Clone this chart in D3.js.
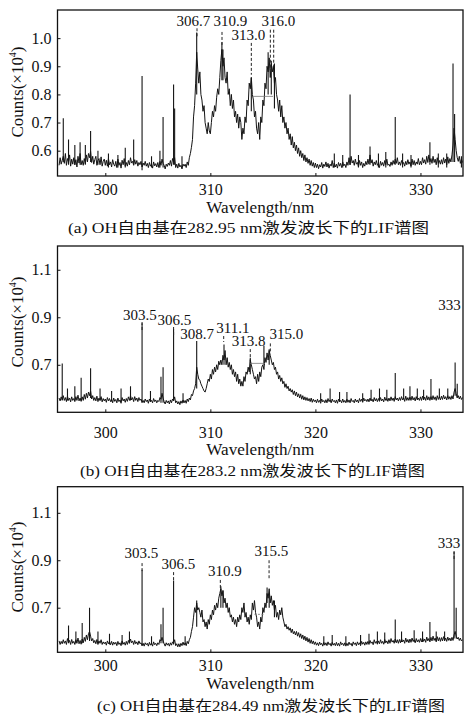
<!DOCTYPE html>
<html><head><meta charset="utf-8">
<script src="https://cdn.jsdelivr.net/npm/d3@7/dist/d3.min.js"></script>
<style>
body{margin:0;background:#fff;}
svg{display:block;}
text{font-family:"Liberation Serif","Times New Roman","Noto Sans CJK SC",serif;fill:#111;}
</style></head>
<body>
<script>
// ---------- DATA ----------
const WL_START = 295.6, WL_STEP = 0.1;   // sampling grid of the spectra (nm)
const xTicks = [300, 310, 320, 330];
const yTicksA = [0.6, 0.7, 0.8, 0.9, 1.0];
const yTicksB = [0.7, 0.9, 1.1];
const yTicksC = [0.7, 0.9, 1.1];
const captions = [
  "(a) OH自由基在282.95 nm激发波长下的LIF谱图",
  "(b) OH自由基在283.2 nm激发波长下的LIF谱图",
  "(c) OH自由基在284.49 nm激发波长下的LIF谱图"
];
const xTitle = "Wavelength/nm";

// spectrum (a), counts ×10^4 (one row per nm)
const specA = [
 .548,.575,.552,.566,
 .58,.555,.59,.548,.572,.56,.585,.545,.57,.552,
 .575,.55,.568,.542,.58,.556,.59,.55,.565,.548,
 .572,.553,.585,.56,.59,.575,.598,.558,.58,.552,
 .568,.58,.548,.565,.572,.55,.578,.545,.562,.57,
 .548,.566,.545,.572,.55,.56,.542,.568,.552,.545,
 .562,.54,.57,.548,.558,.538,.566,.55,.572,.545,
 .558,.545,.565,.55,.575,.556,.562,.548,.568,.552,
 .565,.545,.558,.55,.562,.542,.556,.548,.562,.545,
 .555,.54,.558,.545,.552,.538,.56,.546,.554,.542,
 .558,.54,.562,.548,.57,.555,.548,.535,.552,.544,
 .556,.548,.565,.545,.572,.56,.575,.54,.552,.538,
 .555,.542,.548,.535,.552,.545,.552,.54,.56,.548,
 .575,.59,.612,.64,.72,.76,.84,.95,.89,.84,
 .88,.80,.78,.74,.76,.70,.68,.66,.70,.67,
 .66,.70,.74,.72,.76,.74,.79,.82,.80,.86,
 .92,.96,.90,.93,.86,.84,.88,.80,.82,.76,
 .80,.75,.78,.72,.74,.70,.73,.68,.72,.70,
 .64,.68,.66,.72,.70,.78,.76,.84,.82,.86,
 .80,.78,.72,.74,.68,.66,.70,.64,.72,.70,
 .78,.76,.84,.82,.90,.88,.93,.86,.91,.88,
 .90,.84,.86,.80,.78,.74,.78,.72,.76,.70,
 .72,.68,.70,.66,.68,.64,.66,.62,.65,.61,
 .63,.60,.62,.59,.61,.58,.60,.575,.59,.565,
 .585,.56,.575,.555,.57,.548,.565,.545,.558,.54,
 .556,.54,.552,.536,.55,.542,.558,.538,.552,.544,
 .56,.542,.555,.538,.552,.545,.565,.54,.556,.542,
 .552,.538,.558,.545,.555,.54,.56,.546,.552,.54,
 .56,.548,.575,.55,.58,.556,.565,.548,.57,.552,
 .558,.542,.565,.548,.56,.54,.555,.545,.562,.55,
 .57,.552,.585,.556,.568,.545,.56,.55,.565,.548,
 .555,.54,.562,.548,.558,.545,.565,.55,.57,.548,
 .552,.544,.56,.548,.565,.552,.57,.555,.575,.55,
 .56,.548,.565,.552,.558,.545,.562,.55,.568,.552,
 .56,.545,.57,.55,.565,.548,.56,.552,.572,.55,
 .562,.55,.575,.556,.568,.552,.58,.558,.585,.56,
 .572,.555,.58,.558,.57,.55,.575,.555,.565,.552,
 .568,.552,.575,.556,.57,.55,.578,.555,.572,.56,
 .585,.62,.68,.64,.60,.575,.562,.58,.555,.57,
 .558
];
// narrow lines of (a): [wavelength, foot, top]
const spikesA = [
 [296.0,.56,.715],[296.5,.55,.64],[297.1,.55,.62],[297.6,.55,.63],[298.1,.55,.62],
 [298.6,.56,.67],[299.3,.55,.60],[300.3,.54,.59],[301.2,.54,.585],[301.9,.54,.61],
 [302.7,.55,.64],[303.5,.53,.865],[304.4,.54,.58],[305.2,.54,.60],[305.5,.54,.72],
 [306.5,.55,.835],[306.6,.55,.75],[307.3,.54,.58],[308.7,.80,1.02],[311.1,.85,.985],
 [311.2,.85,.96],[313.9,.74,.86],[315.5,.80,.95],[315.8,.80,.92],[316.1,.75,.91],
 [321.8,.54,.59],[322.6,.54,.585],[323.3,.55,.80],[324.1,.54,.585],[325.2,.55,.615],
 [326.0,.54,.59],[326.7,.54,.595],[327.6,.55,.72],[328.3,.54,.59],[329.1,.54,.585],
 [330.9,.55,.63],[331.7,.54,.59],[332.5,.54,.59],[333.1,.56,.91],[333.25,.56,.73],
 [333.9,.54,.58]
];

// spectrum (b)
const specB = [
 .56,.548,.565,.552,
 .57,.55,.562,.545,.568,.55,.56,.544,.565,.55,
 .558,.545,.566,.55,.572,.548,.56,.546,.565,.55,
 .575,.555,.58,.56,.585,.57,.59,.556,.57,.55,
 .562,.548,.568,.545,.56,.55,.566,.544,.558,.548,
 .556,.542,.562,.548,.558,.545,.555,.54,.56,.546,
 .554,.54,.56,.545,.552,.538,.562,.548,.556,.542,
 .558,.546,.565,.55,.57,.552,.562,.545,.566,.55,
 .56,.545,.562,.55,.556,.542,.55,.54,.556,.545,
 .552,.538,.556,.544,.55,.54,.558,.545,.552,.54,
 .55,.545,.562,.555,.58,.56,.545,.535,.55,.54,
 .548,.535,.552,.54,.556,.548,.565,.54,.548,.535,
 .545,.532,.548,.538,.552,.54,.55,.538,.556,.545,
 .56,.552,.575,.57,.59,.60,.62,.69,.66,.64,
 .635,.62,.61,.60,.59,.585,.60,.62,.64,.63,
 .66,.64,.68,.66,.69,.67,.70,.68,.715,.70,
 .72,.70,.74,.72,.76,.70,.73,.69,.71,.68,
 .70,.66,.68,.65,.67,.63,.66,.62,.64,.61,
 .63,.61,.65,.63,.67,.66,.69,.67,.72,.70,
 .68,.66,.64,.65,.62,.66,.63,.67,.65,.69,
 .70,.68,.73,.71,.75,.72,.76,.74,.72,.70,
 .71,.68,.69,.66,.67,.64,.655,.63,.645,.62,
 .63,.605,.62,.60,.61,.59,.60,.585,.595,.575,
 .59,.57,.585,.565,.578,.56,.575,.555,.57,.552,
 .565,.55,.562,.548,.558,.545,.56,.542,.555,.545,
 .552,.54,.555,.542,.55,.538,.556,.544,.55,.54,
 .553,.54,.558,.545,.552,.54,.556,.545,.55,.54,
 .552,.538,.555,.544,.55,.54,.556,.542,.55,.54,
 .555,.542,.552,.54,.558,.545,.55,.54,.556,.544,
 .552,.54,.558,.546,.555,.542,.56,.548,.554,.545,
 .556,.544,.56,.548,.555,.544,.562,.548,.558,.545,
 .558,.546,.562,.548,.556,.544,.564,.55,.558,.546,
 .56,.548,.565,.55,.56,.546,.566,.552,.56,.548,
 .562,.55,.566,.552,.56,.546,.568,.55,.562,.55,
 .564,.55,.568,.552,.562,.548,.566,.552,.56,.55,
 .565,.55,.568,.552,.564,.55,.57,.552,.565,.55,
 .566,.552,.57,.554,.565,.55,.57,.554,.566,.552,
 .568,.554,.572,.556,.566,.552,.57,.555,.566,.554,
 .57,.556,.585,.60,.578,.562,.57,.556,.568,.554,
 .562
];
const spikesB = [
 [295.9,.55,.705],[296.4,.55,.60],[297.1,.55,.61],[297.7,.55,.645],[298.6,.56,.685],
 [299.5,.55,.60],[300.6,.545,.59],[301.5,.545,.60],[302.4,.55,.61],[303.5,.54,.875],
 [304.3,.545,.59],[305.3,.54,.65],[305.5,.54,.69],[306.5,.55,.85],[307.4,.54,.58],
 [308.7,.60,.80],[311.3,.70,.785],[313.8,.66,.73],[315.1,.70,.78],[315.6,.70,.765],
 [320.5,.545,.58],[321.4,.545,.60],[322.3,.545,.585],[323.0,.545,.585],[324.5,.545,.58],
 [325.3,.55,.595],[326.1,.55,.60],[326.8,.55,.595],[327.6,.555,.665],[328.4,.555,.60],
 [329.0,.555,.61],[329.7,.555,.60],[330.3,.555,.595],[331.0,.56,.64],[331.8,.56,.60],
 [332.6,.56,.60],[333.3,.57,.71],[333.5,.56,.62]
];

// spectrum (c)
const specC = [
 .56,.545,.558,.548,
 .565,.55,.56,.545,.57,.552,.562,.545,.566,.55,
 .558,.545,.565,.55,.572,.548,.562,.546,.568,.552,
 .575,.558,.585,.565,.59,.60,.58,.56,.57,.552,
 .562,.548,.566,.545,.56,.55,.565,.545,.556,.548,
 .555,.542,.56,.548,.556,.544,.558,.542,.555,.546,
 .554,.54,.558,.545,.552,.54,.56,.546,.554,.542,
 .558,.545,.562,.55,.568,.552,.56,.545,.562,.548,
 .556,.544,.56,.548,.552,.54,.55,.538,.552,.544,
 .55,.538,.554,.542,.55,.538,.556,.544,.55,.54,
 .552,.545,.565,.56,.575,.56,.548,.538,.552,.542,
 .55,.538,.552,.542,.556,.55,.565,.54,.548,.535,
 .548,.535,.55,.54,.555,.542,.552,.54,.558,.548,
 .565,.575,.60,.62,.66,.70,.68,.72,.69,.70,
 .68,.66,.69,.64,.65,.62,.64,.61,.65,.63,
 .67,.65,.69,.67,.71,.69,.72,.70,.74,.76,
 .78,.75,.77,.72,.74,.70,.72,.68,.70,.66,
 .67,.64,.66,.63,.65,.62,.66,.64,.67,.65,
 .70,.68,.72,.66,.68,.64,.66,.63,.67,.65,
 .72,.69,.73,.68,.66,.62,.64,.61,.66,.64,
 .70,.68,.72,.70,.76,.74,.78,.72,.75,.71,
 .73,.69,.71,.66,.68,.65,.69,.67,.70,.66,
 .64,.62,.63,.61,.62,.605,.615,.595,.61,.59,
 .60,.585,.60,.58,.595,.575,.59,.57,.585,.565,
 .58,.56,.575,.555,.57,.55,.565,.548,.56,.545,
 .556,.542,.552,.54,.555,.544,.55,.538,.554,.542,
 .552,.54,.556,.544,.55,.538,.554,.542,.55,.54,
 .554,.54,.55,.538,.556,.544,.55,.54,.552,.538,
 .55,.54,.555,.544,.55,.538,.556,.545,.552,.54,
 .556,.544,.552,.54,.558,.546,.554,.542,.556,.545,
 .558,.545,.562,.55,.556,.544,.565,.55,.558,.546,
 .56,.548,.565,.55,.558,.546,.566,.552,.56,.548,
 .565,.55,.57,.555,.562,.55,.568,.552,.565,.55,
 .566,.552,.57,.556,.564,.55,.572,.555,.566,.552,
 .568,.554,.572,.558,.565,.552,.57,.556,.565,.554,
 .57,.556,.574,.558,.568,.554,.576,.56,.57,.556,
 .575,.56,.58,.562,.572,.556,.578,.56,.574,.558,
 .574,.56,.578,.562,.572,.558,.576,.562,.572,.56,
 .575,.562,.585,.60,.58,.568,.575,.562,.572,.56,
 .565
];
const spikesC = [
 [296.5,.55,.625],[297.2,.55,.60],[297.8,.55,.635],[298.5,.56,.70],[299.3,.55,.60],
 [300.4,.545,.59],[301.6,.545,.585],[302.3,.55,.60],[303.5,.54,.86],[304.4,.545,.58],
 [305.3,.55,.63],[305.5,.55,.70],[306.5,.545,.815],[307.6,.545,.58],[308.7,.62,.73],
 [311.0,.70,.79],[311.2,.70,.775],[315.4,.72,.785],[315.6,.70,.76],[316.1,.66,.73],
 [320.8,.545,.58],[321.6,.545,.585],[322.9,.545,.58],[324.3,.545,.585],[325.1,.55,.59],
 [325.9,.55,.60],[326.6,.55,.595],[327.6,.555,.65],[328.2,.555,.60],[329.4,.555,.605],
 [330.2,.555,.60],[330.9,.565,.64],[331.5,.56,.60],[332.3,.56,.60],[333.2,.57,.935],
 [333.4,.57,.70]
];

// horizontal artefact segments [from nm, to nm, value]
const barsA = [[314.07, 315.97, .793]];
const barsB = [[313.8, 315.2, .706]];
const barsC = [[314.2, 315.1, .672]];

// peak annotations: [text, text-centre nm, text-baseline value, leader nm, leader top, leader bottom]
const peaksA = [
 ["306.7",308.38,1.044,308.73,1.035,1.0],
 ["310.9",311.9,1.044,311.11,1.022,0.976],
 ["313.0",313.62,0.994,313.9,0.983,0.87],
 ["316.0",316.48,1.044,315.71,1.03,0.887],
 ["",0,0,316.03,1.03,0.887]
];
const peaksB = [
 ["303.5",303.3,0.889,303.5,0.88,0.838],
 ["306.5",306.57,0.868,306.5,0.859,0.817],
 ["308.7",308.73,0.809,308.73,0.80,0.80],
 ["311.1",312.14,0.834,311.27,0.821,0.796],
 ["313.8",313.65,0.779,313.8,0.766,0.72],
 ["315.0",317.24,0.809,315.71,0.79,0.754],
 ["333",332.76,0.931,333.3,0.93,0.93]
];
const peaksC = [
 ["303.5",303.43,0.909,303.5,0.888,0.85],
 ["306.5",306.95,0.863,306.5,0.85,0.808],
 ["310.9",311.38,0.833,310.95,0.817,0.783],
 ["315.5",315.81,0.918,315.59,0.90,0.817],
 ["333",332.71,0.951,333.2,0.939,0.905]
];

// ---------- LAYOUT ----------
const W = 464, H = 715;
const xDomain = [295.45, 334.05];
const panels = [
 {spec:specA, spikes:spikesA, bars:barsA, peaks:peaksA, yTicks:yTicksA, yDomain:[0.51,1.1],
  top:10, bottom:176, tickY:195, titleY:213, capY:233, capX:248.5, capW:361, yTitleC:92},
 {spec:specB, spikes:spikesB, bars:barsB, peaks:peaksB, yTicks:yTicksB, yDomain:[0.5,1.2],
  top:246, bottom:412.3, tickY:438, titleY:455, capY:476, capX:252.5, capW:345, yTitleC:322},
 {spec:specC, spikes:spikesC, bars:barsC, peaks:peaksC, yTicks:yTicksC, yDomain:[0.512,1.21],
  top:486.7, bottom:652.3, tickY:671, titleY:689, capY:711, capX:271, capW:348, yTitleC:567}
];
const LEFT = 57.5, RIGHT = 463;

const svg = d3.select("body").append("svg").attr("width", W).attr("height", H);

panels.forEach((p, k) => {
  const g = svg.append("g");
  const x = d3.scaleLinear().domain(xDomain).range([LEFT, RIGHT]);
  const y = d3.scaleLinear().domain(p.yDomain).range([p.bottom, p.top]);
  const clipId = "clip" + k;
  svg.append("clipPath").attr("id", clipId).append("rect")
     .attr("x", LEFT).attr("y", p.top).attr("width", RIGHT - LEFT).attr("height", p.bottom - p.top);

  const plot = g.append("g").attr("clip-path", `url(#${clipId})`);
  const pts = p.spec.map((v, i) => [WL_START + i * WL_STEP, v]);
  plot.append("path").datum(pts)
     .attr("d", d3.line().x(d => x(d[0])).y(d => y(d[1])))
     .attr("fill", "none").attr("stroke", "#141414").attr("stroke-width", 1)
     .attr("stroke-linejoin", "miter");
  plot.selectAll("line.spk").data(p.spikes).join("line").attr("class", "spk")
     .attr("x1", d => x(d[0])).attr("x2", d => x(d[0]))
     .attr("y1", d => y(d[1])).attr("y2", d => y(d[2]))
     .attr("stroke", "#141414").attr("stroke-width", 1.1);
  plot.selectAll("line.bar").data(p.bars).join("line").attr("class", "bar")
     .attr("x1", d => x(d[0])).attr("x2", d => x(d[1]))
     .attr("y1", d => y(d[2])).attr("y2", d => y(d[2]))
     .attr("stroke", "#777").attr("stroke-width", 0.8)
     .attr("stroke-dasharray", k === 2 ? "2,1.5" : null);

  // leaders + labels
  g.selectAll("line.lead").data(p.peaks.filter(d => d[4] > d[5])).join("line").attr("class", "lead")
     .attr("x1", d => x(d[3])).attr("x2", d => x(d[3]))
     .attr("y1", d => y(d[4])).attr("y2", d => y(d[5]))
     .attr("stroke", "#222").attr("stroke-width", 1).attr("stroke-dasharray", "3,2");
  g.selectAll("text.pk").data(p.peaks.filter(d => d[0])).join("text").attr("class", "pk")
     .attr("x", d => x(d[1])).attr("y", d => y(d[2]))
     .attr("text-anchor", "middle").attr("font-size", 15).text(d => d[0]);

  // axes (inward ticks)
  const xa = g.append("g").attr("transform", `translate(0,${p.bottom})`)
     .call(d3.axisBottom(x).tickValues(xTicks).tickSize(-3).tickFormat(d3.format("d")));
  xa.select(".domain").remove();
  xa.selectAll(".tick line").attr("stroke", "#111");
  xa.selectAll("text").attr("y", p.tickY - p.bottom).attr("dy", null)
     .attr("font-size", 16).attr("font-family", "Liberation Serif").attr("fill", "#111");

  const ya = g.append("g").attr("transform", `translate(${LEFT},0)`)
     .call(d3.axisLeft(y).tickValues(p.yTicks).tickSize(-3).tickPadding(6).tickFormat(d3.format(".1f")));
  ya.select(".domain").remove();
  ya.selectAll(".tick line").attr("stroke", "#111");
  ya.selectAll("text").attr("font-size", 16).attr("font-family", "Liberation Serif").attr("fill", "#111");

  // frame
  g.append("rect").attr("x", LEFT).attr("y", p.top).attr("width", RIGHT - LEFT)
     .attr("height", p.bottom - p.top).attr("fill", "none").attr("stroke", "#111").attr("stroke-width", 1.3);

  // y title
  const yt = g.append("text").attr("transform", `translate(23,${p.yTitleC}) rotate(-90)`)
     .attr("text-anchor", "middle").attr("font-size", 17);
  yt.append("tspan").text("Counts(×10");
  yt.append("tspan").attr("font-size", 10).attr("dy", -7).text("4");
  yt.append("tspan").attr("dy", 7).text(")");

  // x title
  g.append("text").attr("x", (LEFT + RIGHT) / 2).attr("y", p.titleY)
     .attr("text-anchor", "middle").attr("font-size", 16)
     .attr("textLength", 108).attr("lengthAdjust", "spacingAndGlyphs").text(xTitle);

  // caption
  g.append("text").attr("x", p.capX).attr("y", p.capY).attr("text-anchor", "middle")
     .attr("font-size", 14.5).attr("textLength", p.capW).attr("lengthAdjust", "spacingAndGlyphs")
     .text(captions[k]);
});
</script>
</body></html>
